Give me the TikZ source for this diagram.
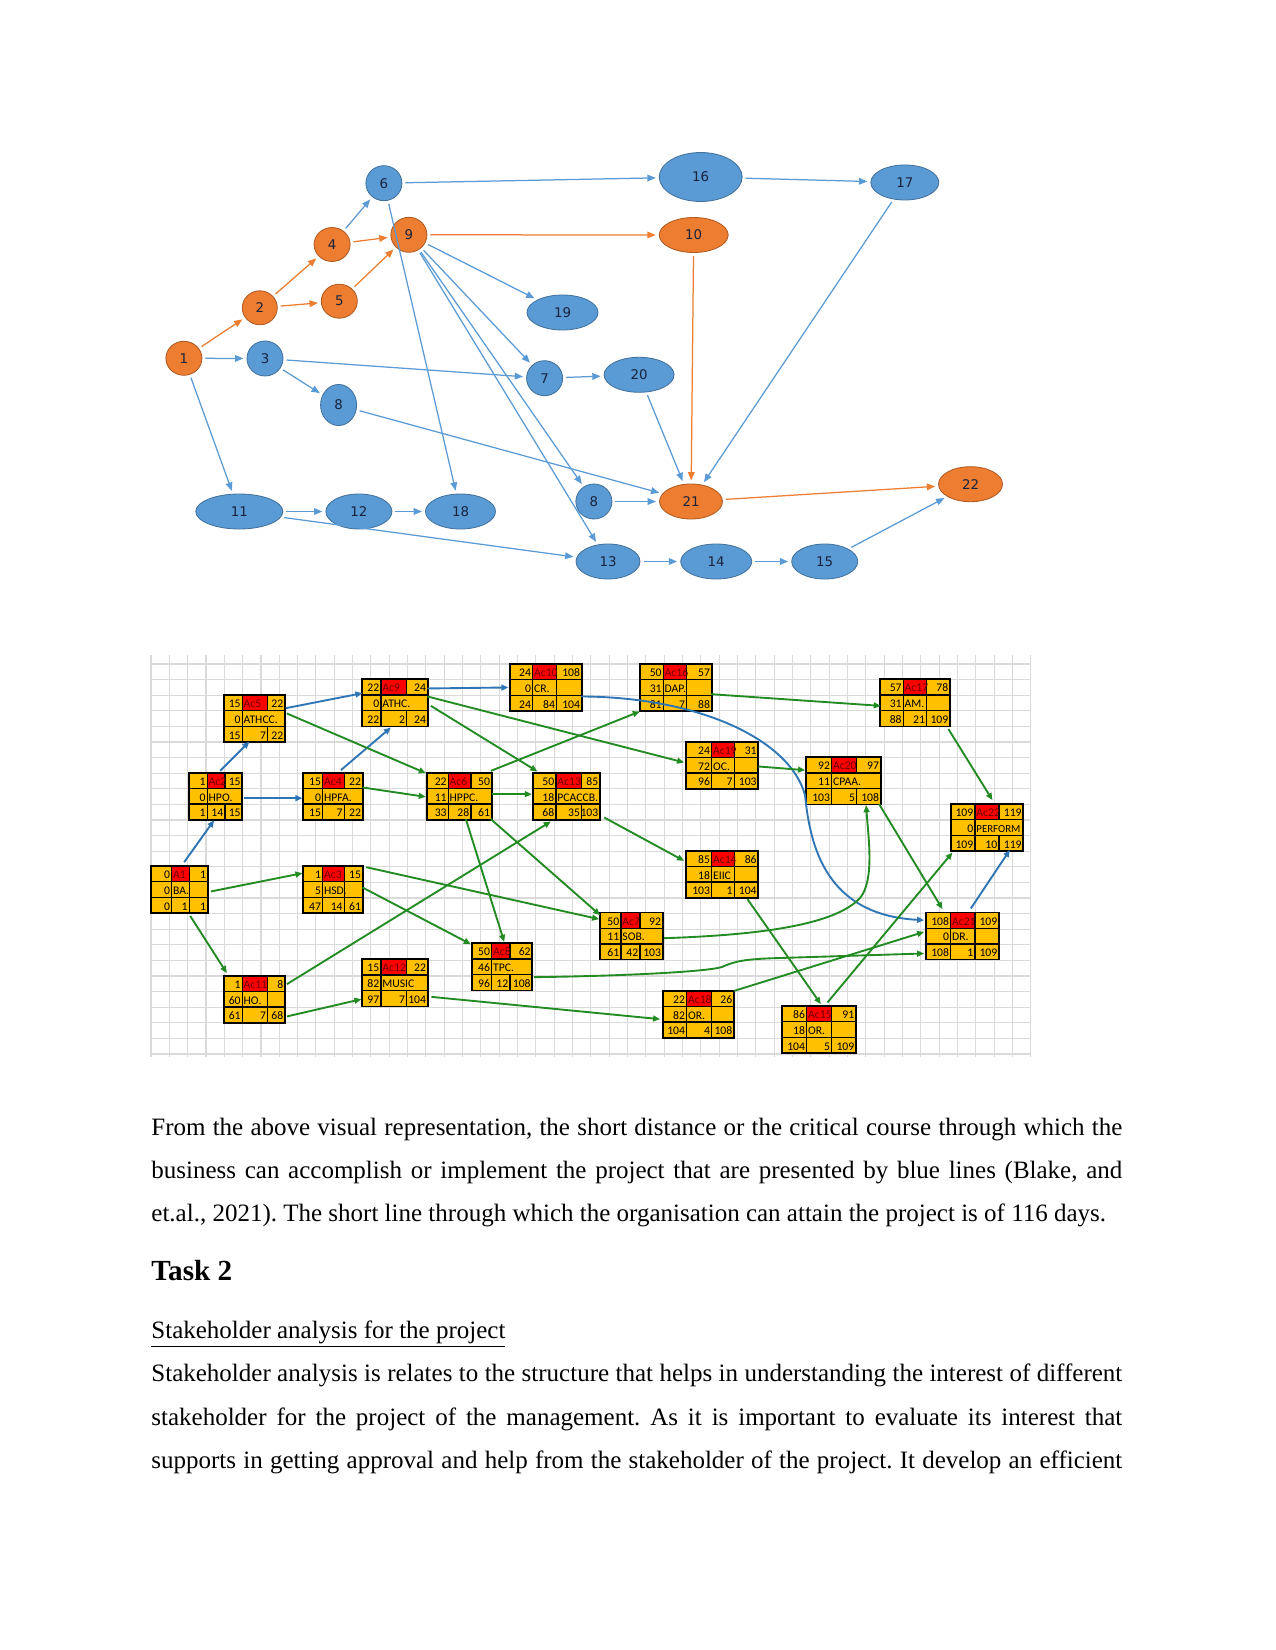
\documentclass[tikz,border=0pt]{standalone}
\usepackage{fontspec}
\setmainfont{Liberation Serif}
\newfontfamily\boxfont{Carlito}
\newfontfamily\netfont{DejaVu Sans}
\usetikzlibrary{shapes.geometric,arrows.meta,fit}
\frenchspacing

\definecolor{nblue}{RGB}{91,155,213}
\definecolor{nblueb}{RGB}{65,113,156}
\definecolor{norange}{RGB}{237,125,49}
\definecolor{norangeb}{RGB}{174,90,33}
\definecolor{ntext}{RGB}{25,35,60}
\definecolor{gold}{RGB}{255,192,0}
\definecolor{cred}{RGB}{255,0,0}
\definecolor{cidtext}{RGB}{110,0,0}
\definecolor{ggreen}{RGB}{34,139,34}
\definecolor{gblue}{RGB}{46,117,182}
\definecolor{gridc}{RGB}{218,218,218}

\tikzset{
  bn/.style={ellipse, draw=nblueb, fill=nblue, line width=0.4pt, inner sep=0pt,
    text=ntext, font=\netfont\fontsize{6.4}{7}\selectfont},
  on/.style={bn, draw=norangeb, fill=norange},
  be/.style={draw=nblue, line width=0.6pt, -{Triangle[length=4pt,width=3.2pt]},
    shorten >=1.5pt, shorten <=1.5pt},
  oe/.style={be, draw=norange},
  gridl/.style={draw=gridc, line width=0.5pt},
  cellline/.style={draw=black, line width=0.6pt},
  bt/.style={font=\boxfont\fontsize{5.6}{6}\selectfont, inner sep=0pt, text=black},
  ge/.style={draw=ggreen, line width=0.9pt, -{Triangle[length=3.4pt,width=2.8pt]}},
  gbe/.style={ge, draw=gblue},
  txt/.style={font=\fontsize{12}{14}\selectfont, inner sep=0pt, anchor=base west}
}

\newcommand\bpos[5]{\def\xa{#1}\def\xb{#2}\def\xc{#3}\def\xd{#4}\def\yt{#5}}
\newcommand\actbox[9]{%
  \fill[gold] (\xa,\yt) rectangle (\xd,\yt+47.1);
  \fill[cred] (\xb,\yt) rectangle (\xc,\yt+15.7);
  \draw[cellline] (\xa,\yt+15.7) -- (\xd,\yt+15.7) (\xa,\yt+31.4) -- (\xd,\yt+31.4)
    (\xb,\yt) -- (\xb,\yt+47.1) (\xc,\yt) -- (\xc,\yt+15.7) (\xc,\yt+31.4) -- (\xc,\yt+47.1);
  \node[fit={(\xa,\yt) (\xd,\yt+47.1)}, inner sep=0pt, draw=black, line width=0.8pt] (#1) {};
  \node[bt, anchor=mid east] (#1es) at (\xb-1.3,\yt+7.85) {#2};
  \node[bt, text=cidtext, anchor=mid west] (#1id) at (\xb+1.0,\yt+7.85) {#3};
  \node[bt, anchor=mid east] (#1ef) at (\xd-1.3,\yt+7.85) {#4};
  \node[bt, anchor=mid east] (#1sl) at (\xb-1.3,\yt+23.55) {#5};
  \node[bt, anchor=mid west] (#1ds) at (\xb+1.0,\yt+23.55) {#6};
  \node[bt, anchor=mid east] (#1ls) at (\xb-1.3,\yt+39.25) {#7};
  \node[bt, anchor=mid east] (#1du) at (\xc-1.3,\yt+39.25) {#8};
  \node[bt, anchor=mid east] (#1lf) at (\xd-1.3,\yt+39.25) {#9};
}
\newcommand\splitmid{\draw[cellline] (\xc,\yt+15.7) -- (\xc,\yt+31.4);}

\begin{document}
\begin{tikzpicture}[x=0.48pt,y=-0.48pt]
\fill[white] (0,0) rectangle (1275,1650);
\useasboundingbox (0,0) rectangle (1275,1650);

% ---------------- top network ----------------
\node[on, minimum width=17.3pt, minimum height=16.3pt] (n1) at (183.9,358.3) {1};
\node[on, minimum width=16.8pt, minimum height=16.3pt] (n2) at (259.8,307.8) {2};
\node[bn, minimum width=17.3pt, minimum height=16.8pt] (n3) at (265,358.5) {3};
\node[on, minimum width=17.3pt, minimum height=16.3pt] (n4) at (332.1,244.5) {4};
\node[on, minimum width=17.3pt, minimum height=16.3pt] (n5) at (339.3,301.2) {5};
\node[bn, minimum width=17.3pt, minimum height=16.8pt] (n6) at (383.9,183.2) {6};
\node[on, minimum width=17.3pt, minimum height=16.8pt] (n9) at (408.9,234.8) {9};
\node[bn, minimum width=34.1pt, minimum height=16.8pt] (n19) at (562.5,312.5) {19};
\node[bn, minimum width=17.3pt, minimum height=16.8pt] (n7) at (544.6,378.2) {7};
\node[bn, minimum width=33.6pt, minimum height=16.8pt] (n20) at (639.1,374.8) {20};
\node[bn, minimum width=17.3pt, minimum height=19.7pt] (n8a) at (338.6,405) {8};
\node[bn, minimum width=41.8pt, minimum height=16.8pt] (n11) at (239.3,511.5) {11};
\node[bn, minimum width=31.7pt, minimum height=16.8pt] (n12) at (358.9,511.5) {12};
\node[bn, minimum width=33.6pt, minimum height=16.8pt] (n18) at (460.5,511.5) {18};
\node[bn, minimum width=17.3pt, minimum height=16.8pt] (n8b) at (593.9,501.5) {8};
\node[on, minimum width=30.2pt, minimum height=16.8pt] (n21) at (691,501.5) {21};
\node[bn, minimum width=30.7pt, minimum height=16.8pt] (n13) at (608,561.5) {13};
\node[bn, minimum width=34.1pt, minimum height=16.8pt] (n14) at (716.2,561.5) {14};
\node[bn, minimum width=31.7pt, minimum height=16.8pt] (n15) at (824.7,561.5) {15};
\node[on, minimum width=30.7pt, minimum height=16.8pt] (n22) at (970.5,484.2) {22};
\node[bn, minimum width=39.8pt, minimum height=23.5pt] (n16) at (700.7,177) {16};
\node[on, minimum width=33.1pt, minimum height=16.8pt] (n10) at (693.7,235) {10};
\node[bn, minimum width=32.6pt, minimum height=16.8pt] (n17) at (904.8,182.5) {17};

\draw[oe] (n1) -- (n2);
\draw[oe] (n2) -- (n4);
\draw[oe] (n2) -- (n5);
\draw[oe] (n4) -- (n9);
\draw[oe] (n5) -- (n9);
\draw[oe] (n9) -- (n10);
\draw[oe] (n10) -- (n21);
\draw[oe] (n21) -- (n22);
\draw[be] (n1) -- (n3);
\draw[be] (n1) -- (n11);
\draw[be] (n3) -- (n7);
\draw[be] (n3) -- (n8a);
\draw[be] (n4) -- (n6);
\draw[be] (n6) -- (n16);
\draw[be] (n6) -- (n18);
\draw[be] (n16) -- (n17);
\draw[be] (n17) -- (n21);
\draw[be] (n9) -- (n19);
\draw[be] (n9) -- (n7);
\draw[be] (n9) -- (n8b);
\draw[be] (n9) -- (n13);
\draw[be] (n7) -- (n20);
\draw[be] (n20) -- (n21);
\draw[be] (n8a) -- (n21);
\draw[be] (n8b) -- (n21);
\draw[be] (n11) -- (n12);
\draw[be] (n12) -- (n18);
\draw[be] (n11) -- (n13);
\draw[be] (n13) -- (n14);
\draw[be] (n14) -- (n15);
\draw[be] (n15) -- (n22);

% ---------------- grid ----------------
\foreach \i in {0,...,48} \draw[gridl] ({151+18.33*\i},655) -- ({151+18.33*\i},1057);
\foreach \j in {0,...,25} \draw[gridl] (150,{664+15.6*\j}) -- (1031,{664+15.6*\j});

% ---------------- activity boxes ----------------
\bpos{151}{171.7}{189.3}{207.7}{866}\actbox{a1}{0}{A1}{1}{0}{BA.}{0}{1}{1}\splitmid
\bpos{189.3}{207.3}{225}{242.3}{772.7}\actbox{a2}{1}{Ac2}{15}{0}{HPO.}{1}{14}{15}
\bpos{303.3}{322.7}{344.3}{362.7}{866}\actbox{a3}{1}{Ac3}{15}{5}{HSD.}{47}{14}{61}\splitmid
\bpos{303.3}{322.7}{344.3}{362.7}{772.7}\actbox{a4}{15}{Ac4}{22}{0}{HPFA.}{15}{7}{22}
\bpos{224.3}{242.3}{267.7}{285}{695}\actbox{a5}{15}{Ac5}{22}{0}{ATHCC.}{15}{7}{22}
\bpos{427.3}{448.3}{471}{491.7}{772.7}\actbox{a6}{22}{Ac6}{50}{11}{HPPC.}{33}{28}{61}
\bpos{600}{621}{640}{662.7}{912.5}\actbox{a7}{50}{Ac7}{92}{11}{SOB.}{61}{42}{103}
\bpos{471.7}{491.7}{510}{532.3}{943.3}\actbox{a8}{50}{Ac8}{62}{46}{TPC.}{96}{12}{108}
\bpos{362.3}{381}{406.7}{427.7}{679.3}\actbox{a9}{22}{Ac9}{24}{0}{ATHC.}{22}{2}{24}
\bpos{510}{532.7}{556.7}{581.7}{664}\actbox{a10}{24}{Ac10}{108}{0}{CR.}{24}{84}{104}\splitmid
\bpos{224.3}{242.3}{267.7}{285}{975.7}\actbox{a11}{1}{Ac11}{8}{60}{HO.}{61}{7}{68}\splitmid
\bpos{362.3}{381}{406.7}{427.7}{959.3}\actbox{a12}{15}{Ac12}{22}{82}{MUSIC}{97}{7}{104}
\bpos{532.7}{556}{581.7}{600}{772.7}\actbox{a13}{50}{Ac13}{85}{18}{PCACCB.}{68}{35}{103}
\bpos{686}{711.7}{734.3}{758.3}{850.7}\actbox{a14}{85}{Ac14}{86}{18}{EIIC}{103}{1}{104}\splitmid
\bpos{782.3}{806.7}{831.7}{856}{1006}\actbox{a15}{86}{Ac15}{91}{18}{OR.}{104}{5}{109}\splitmid
\bpos{640}{663.3}{686.7}{711.7}{664}\actbox{a16}{50}{Ac16}{57}{31}{DAP.}{81}{7}{88}\splitmid
\bpos{880}{903.3}{926.7}{950}{679.3}\actbox{a17}{57}{Ac17}{78}{31}{AM.}{88}{21}{109}\splitmid
\bpos{662.7}{686.7}{711.7}{734}{990.7}\actbox{a18}{22}{Ac18}{26}{82}{OR.}{104}{4}{108}\splitmid
\bpos{686}{711.7}{734.3}{758.3}{741.7}\actbox{a19}{24}{Ac19}{31}{72}{OC.}{96}{7}{103}\splitmid
\bpos{806}{831.7}{856.7}{880.7}{757.3}\actbox{a20}{92}{Ac20}{97}{11}{CPAA.}{103}{5}{108}
\bpos{925.7}{950.7}{975}{999}{912.5}\actbox{a21}{108}{Ac21}{109}{0}{DR.}{108}{1}{109}\splitmid
\bpos{950.7}{975}{999}{1023.3}{804}\actbox{a22}{109}{Ac22}{119}{0}{\fontsize{5.2}{6}\selectfont PERFORM}{109}{10}{119}

% ---------------- blue links ----------------
\draw[gbe] ([shift={(34,-3)}]a1.north west) -- ([shift={(25.7,48.3)}]a2.north west);
\draw[gbe] ([shift={(31.7,-1)}]a2.north west) -- ([shift={(26,47.3)}]a5.north west);
\draw[gbe] ([shift={(55.7,26.3)}]a2.north west) -- ([shift={(0,26.3)}]a4.north west);
\draw[gbe] ([shift={(38.4,-1.7)}]a4.north west) -- ([shift={(29.4,49)}]a9.north west);
\draw[gbe] ([shift={(62.4,14)}]a5.north west) -- ([shift={(1,14.7)}]a9.north west);
\draw[gbe] ([shift={(66,10)}]a9.north west) -- ([shift={(-0.7,24.3)}]a10.north west);
\draw[gbe] ([shift={(71.7,33.3)}]a10.north west) .. controls (700,697) and (790,740) .. (805,795)
   .. controls (810,845) and (825,915) .. ([shift={(-0.7,8.5)}]a21.north west);
\draw[gbe] ([shift={(46,-3.2)}]a21.north west) -- ([shift={(60,46.7)}]a22.north west);

% ---------------- green links ----------------
\draw[ge] ([shift={(60.7,26.3)}]a1.north west) -- ([shift={(0,8)}]a3.north west);
\draw[ge] ([shift={(40,50.7)}]a1.north west) -- ([shift={(3.4,-1.7)}]a11.north west);
\draw[ge] ([shift={(63.4,9.3)}]a11.north west) -- ([shift={(19,49.6)}]a13.north west);
\draw[ge] ([shift={(63.4,41.6)}]a11.north west) -- ([shift={(0,40.7)}]a12.north west);
\draw[ge] ([shift={(70,38.4)}]a12.north west) -- ([shift={(-1.7,29.3)}]a18.north west);
\draw[ge] ([shift={(63.7,2)}]a3.north west) -- ([shift={(0,7.5)}]a7.north west);
\draw[ge] ([shift={(60,22.3)}]a3.north west) -- ([shift={(0,1.7)}]a8.north west);
\draw[ge] ([shift={(63.4,19.3)}]a5.north west) -- ([shift={(-0.6,1.3)}]a6.north west);
\draw[ge] ([shift={(60,15.6)}]a4.north west) -- ([shift={(-0.6,25)}]a6.north west);
\draw[ge] ([shift={(66,22.3)}]a6.north west) -- ([shift={(0,22.3)}]a13.north west);
\draw[ge] ([shift={(64.4,-1)}]a6.north west) -- ([shift={(0.7,48.3)}]a16.north west);
\draw[ge] ([shift={(39.4,47.3)}]a6.north west) -- ([shift={(33.3,-0.6)}]a8.north west);
\draw[ge] ([shift={(64.4,47.3)}]a6.north west) -- ([shift={(1,3.5)}]a7.north west);
\draw[ge] ([shift={(66,18)}]a9.north west) -- ([shift={(-1,21.6)}]a19.north west);
\draw[ge] ([shift={(69.4,27.4)}]a9.north west) -- ([shift={(5.6,-0.4)}]a13.north west);
\draw[ge] ([shift={(72.3,45.6)}]a13.north west) -- ([shift={(-1,11)}]a14.north west);
\draw[ge] ([shift={(71.7,31)}]a16.north west) -- ([shift={(1.7,27.4)}]a17.north west);
\draw[ge] ([shift={(73.3,25.6)}]a19.north west) -- ([shift={(0,13.7)}]a20.north west);
\draw[ge] ([shift={(65,26.5)}]a7.north west) .. controls (760,935) and (835,925) .. (860,898)
   .. controls (875,880) and (868,835) .. ([shift={(61,48.7)}]a20.north west);
\draw[ge] ([shift={(63.3,34.7)}]a8.north west) .. controls (620,976) and (705,972) .. (722,967)
   .. controls (735,961) and (745,959) .. (780,958) -- ([shift={(-0.7,41.8)}]a21.north west);
\draw[ge] ([shift={(72.3,1)}]a18.north west) -- ([shift={(-0.7,20.2)}]a21.north west);
\draw[ge] ([shift={(46,-2.7)}]a15.north west) -- ([shift={(2.6,49.3)}]a22.north west);
\draw[ge] ([shift={(62.3,49.3)}]a14.north west) -- ([shift={(39.4,-1)}]a15.north west);
\draw[ge] ([shift={(74,47.7)}]a20.north west) -- ([shift={(17.6,-2.5)}]a21.north west);
\draw[ge] ([shift={(69.3,50.7)}]a17.north west) -- ([shift={(42.6,-3)}]a22.north west);

% ---------------- text ----------------
\node[txt] (p1) at (151,1135) {\makebox[466pt][s]{From the above visual representation, the short distance or the critical course through which the}};
\node[txt] (p2) at (151,1178.5) {\makebox[466pt][s]{business can accomplish or implement the project that are presented by blue lines (Blake, and}};
\node[txt] (p3) at (151,1221.8) {et.al., 2021). The short line through which the organisation can attain the project is of 116 days.};
\node[txt, font=\fontsize{14}{16}\selectfont\bfseries] (task) at (151,1280) {Task 2};
\node[txt] (sub) at (151,1338.3) {\underline{Stakeholder analysis for the project}};
\node[txt] (q1) at (151,1381.7) {\makebox[466pt][s]{Stakeholder analysis is relates to the structure that helps in understanding the interest of different}};
\node[txt] (q2) at (151,1425) {\makebox[466pt][s]{stakeholder for the project of the management. As it is important to evaluate its interest that}};
\node[txt] (q3) at (151,1468.3) {\makebox[466pt][s]{supports in getting approval and help from the stakeholder of the project. It develop an efficient}};
\end{tikzpicture}
\end{document}
